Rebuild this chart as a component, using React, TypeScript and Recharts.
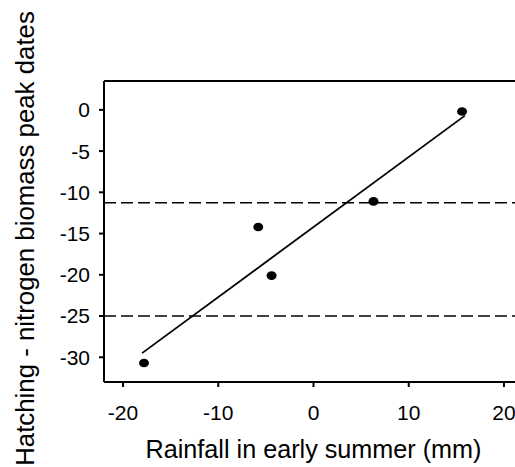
import { ComposedChart, Scatter, XAxis, YAxis, ReferenceLine, Label } from "recharts";

const RAIN = [-17.8, -5.8, -4.4, 6.3, 15.6];
const DIFF = [-30.7, -14.2, -20.1, -11.1, -0.2];
const FIT_X = [-18, 15.9];
const FIT_Y = [-29.5, -0.7];
const THRESHOLDS = [-11.25, -25];
const X_TICKS = [-20, -10, 0, 10, 20];
const Y_TICKS = [0, -5, -10, -15, -20, -25, -30];

const FONT = "Arial, 'Liberation Sans', sans-serif";

const YTitle = (props: any) => {
  const vb = props.viewBox || { x: 0, y: 81, width: 104, height: 301 };
  const cx = vb.x + 25;
  const cy = vb.y + vb.height / 2 + 7;
  return (
    <text
      x={cx}
      y={cy}
      transform={`rotate(-90, ${cx}, ${cy})`}
      textAnchor="middle"
      dominantBaseline="central"
      fontSize={25.8}
      fontFamily={FONT}
      fill="#000"
    >
      Hatching - nitrogen biomass peak dates
    </text>
  );
};

export default function App() {
  const data = RAIN.map((x, i) => ({ x, y: DIFF[i] }));

  return (
    <div style={{ position: "absolute", left: 0, top: 0, width: 515, height: 467, overflow: "hidden", background: "#fff" }}>
      <ComposedChart width={540} height={467} data={data} margin={{ top: 81, right: 17, bottom: 0, left: 0 }}>
        <XAxis
          type="number"
          dataKey="x"
          domain={[-22, 22]}
          ticks={X_TICKS}
          allowDataOverflow
          height={85}
          tickSize={5}
          tickMargin={18}
          stroke="#000"
          strokeWidth={2}
          tick={{ fill: "#000", fontSize: 21, fontFamily: FONT }}
        >
          <Label value="Rainfall in early summer (mm)" position="insideBottom" offset={9} fill="#000" fontSize={25.2} fontFamily={FONT} />
        </XAxis>
        <YAxis
          type="number"
          dataKey="y"
          domain={[-33, 3.5]}
          ticks={Y_TICKS}
          allowDataOverflow
          width={104}
          tickSize={5}
          tickMargin={9}
          stroke="#000"
          strokeWidth={2}
          tick={{ fill: "#000", fontSize: 21, fontFamily: FONT }}
        >
          <Label content={YTitle} />
        </YAxis>
        <ReferenceLine y={3.5} stroke="#000" strokeWidth={2} />
        <ReferenceLine x={22} stroke="#000" strokeWidth={2} />
        {THRESHOLDS.map((t) => (
          <ReferenceLine key={t} y={t} stroke="#000" strokeWidth={1.5} strokeDasharray="12 5" />
        ))}
        <ReferenceLine
          segment={[
            { x: FIT_X[0], y: FIT_Y[0] },
            { x: FIT_X[1], y: FIT_Y[1] },
          ]}
          stroke="#000"
          strokeWidth={1.8}
        />
        <Scatter dataKey="y" fill="#000" isAnimationActive={false} shape={(p: any) => <ellipse cx={p.cx} cy={p.cy} rx={5} ry={4.3} fill="#000" />} />
      </ComposedChart>
    </div>
  );
}
